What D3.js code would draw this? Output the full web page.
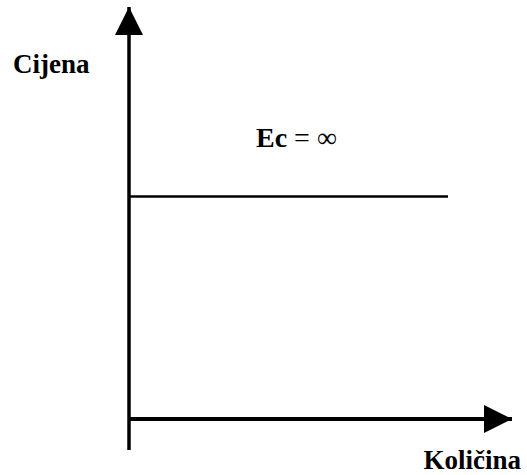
<!DOCTYPE html>
<html>
<head>
	<meta charset="utf-8">
	<title>Ec</title>
	<script src="https://d3js.org/d3.v7.min.js"></script>
	<style>
		body { margin: 0; background: #fff; }
		text { font-family: "Liberation Serif", "Times New Roman", serif; fill: #000; }
	</style>
</head>
<body>
</body>
<script>
	// data
	var quantity = [0, 8.33];
	var price = [5.4, 5.4];
	var xLabel = "Količina";
	var yLabel = "Cijena";
	var elasticity = ["Ec", " = ∞"];

	var width = 527, height = 475;

	var svg = d3.select("body").append("svg").attr("width", width).attr("height", height);

	var xScale = d3.scaleLinear().domain([0, 10]).range([129, 512]);
	var yScale = d3.scaleLinear().domain([0, 10]).range([419, 7]);

	// arrow heads
	var defs = svg.append("defs");
	defs.append("marker").attr("id", "arr").attr("viewBox", "0 0 28 28").attr("refX", 28).attr("refY", 14)
		.attr("markerWidth", 28).attr("markerHeight", 28).attr("markerUnits", "userSpaceOnUse").attr("orient", "auto")
		.append("path").attr("d", "M0,0 L28,14 L0,28 Z").attr("fill", "#000");

	// y axis
	svg.append("line")
		.attr("x1", xScale(0)).attr("x2", xScale(0))
		.attr("y1", yScale(-0.75)).attr("y2", yScale(10))
		.attr("stroke", "#000").attr("stroke-width", 3.5).attr("marker-end", "url(#arr)");

	// x axis
	svg.append("line")
		.attr("x1", xScale(0)).attr("x2", xScale(10))
		.attr("y1", yScale(0)).attr("y2", yScale(0))
		.attr("stroke", "#000").attr("stroke-width", 4).attr("marker-end", "url(#arr)");

	// demand line
	var pts = quantity.map(function(q, i) { return [q, price[i]]; });
	svg.append("path").datum(pts)
		.attr("d", d3.line().x(function(d) { return xScale(d[0]); }).y(function(d) { return yScale(d[1]); }))
		.attr("fill", "none").attr("stroke", "#000").attr("stroke-width", 2.5);

	// labels
	svg.append("text").attr("x", 13).attr("y", 73).attr("font-size", 27).attr("font-weight", "bold").text(yLabel);
	svg.append("text").attr("x", 521).attr("y", 469).attr("text-anchor", "end").attr("font-size", 27).attr("font-weight", "bold").text(xLabel);

	var t = svg.append("text").attr("x", 256).attr("y", 147).attr("font-size", 28);
	t.append("tspan").attr("font-weight", "bold").text(elasticity[0]);
	t.append("tspan").attr("font-weight", 300).text(elasticity[1]);
</script>
</html>
